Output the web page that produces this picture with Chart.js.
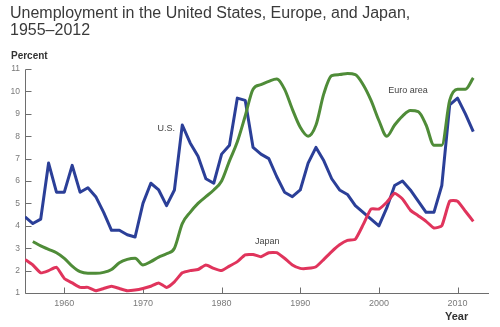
<!DOCTYPE html>
<html>
<head>
<meta charset="utf-8">
<script src="https://cdn.jsdelivr.net/npm/chart.js@4.4.0/dist/chart.umd.min.js"></script>
<style>
html,body{margin:0;padding:0;background:#fff;}
#wrap{position:relative;width:500px;height:327px;overflow:hidden;font-family:"Liberation Sans",Arial,Helvetica,sans-serif;}
#c{position:absolute;left:0;top:0;}
.t{position:absolute;white-space:nowrap;}
#title{left:10px;top:4px;font-size:16px;line-height:17px;color:#3a3a3a;}
#pct{left:11px;top:51px;font-size:10px;line-height:10px;font-weight:bold;color:#333;}
#year{left:445px;top:311px;font-size:11px;line-height:11px;font-weight:bold;color:#333;}
.lab{position:absolute;white-space:nowrap;font-size:9px;line-height:9px;color:#444;transform:translate(-50%,-50%);}
</style>
</head>
<body>
<div id="wrap">
  <canvas id="c" width="500" height="327"></canvas>
  <div class="t" id="title">Unemployment in the United States, Europe, and Japan,<br>1955–2012</div>
  <div class="t" id="pct">Percent</div>
  <div class="t" id="year">Year</div>
</div>
<script>
// ---- data ----
const years = [1955,1956,1957,1958,1959,1960,1961,1962,1963,1964,1965,1966,1967,1968,1969,
  1970,1971,1972,1973,1974,1975,1976,1977,1978,1979,1980,1981,1982,1983,1984,1985,1986,1987,
  1988,1989,1990,1991,1992,1993,1994,1995,1996,1997,1998,1999,2000,2001,2002,2003,2004,2005,
  2006,2007,2008,2009,2010,2011,2012];

const usValues = [4.4,4.1,4.3,6.8,5.5,5.5,6.7,5.5,5.7,5.3,4.6,3.8,3.8,3.6,3.5,
  5.0,5.9,5.6,4.9,5.6,8.5,7.7,7.1,6.1,5.9,7.2,7.6,9.7,9.6,7.5,7.2,7.0,6.2,
  5.5,5.3,5.6,6.8,7.5,6.9,6.1,5.6,5.4,4.9,4.6,4.3,4.0,4.8,5.8,6.0,5.6,5.1,
  4.6,4.6,5.8,9.4,9.7,9.0,8.2];

const japanValues = [2.5,2.25,1.9,2.0,2.15,1.65,1.45,1.25,1.25,1.1,1.2,1.3,1.2,1.1,1.13,
  1.2,1.3,1.45,1.25,1.5,1.9,2.0,2.05,2.25,2.1,2.0,2.2,2.4,2.7,2.72,2.62,2.8,2.8,
  2.55,2.25,2.1,2.1,2.17,2.5,2.85,3.15,3.35,3.4,4.05,4.75,4.75,5.05,5.45,5.2,4.7,4.45,
  4.2,3.9,4.0,5.1,5.1,4.65,4.2];

const euroYears = [1956,1957,1958,1959,1960,1961,1962,1963,1964,1965,1966,1967,1968,1969,
  1970,1971,1972,1973,1974,1975,1976,1977,1978,1979,1980,1981,1982,1983,1984,1985,1986,1987,
  1988,1989,1990,1991,1992,1993,1994,1995,1996,1997,1998,1999,2000,2001,2002,2003,2004,2005,
  2006,2007,2008,2009,2010,2011,2012];

const euroValues = [3.3,3.1,2.95,2.8,2.55,2.2,1.95,1.88,1.88,1.92,2.05,2.35,2.5,2.55,
  2.25,2.4,2.6,2.75,3.0,4.1,4.6,5.0,5.3,5.6,6.0,6.9,7.75,8.9,10.1,10.3,10.45,10.55,
  10.1,9.2,8.4,8.0,8.5,9.9,10.7,10.75,10.8,10.75,10.3,9.6,8.7,8.0,8.5,8.9,9.15,9.1,
  8.5,7.6,7.6,9.6,10.1,10.1,10.6];

const xTicks = [1960,1970,1980,1990,2000,2010];
const yTicks = [1,2,3,4,5,6,7,8,9,10,11];

const seriesNames = ['U.S.','Japan','Euro area'];

// ---- label placement (data coordinates) ----
const labelSpots = [
  {text:'U.S.', x:1972.95, y:8.37},
  {text:'Japan', x:1985.8, y:3.32},
  {text:'Euro area', x:2003.7, y:10.06}
];

const FONT = '"Liberation Sans", Arial, Helvetica, sans-serif';
const COLORS = {us:'#2b3f98', japan:'#e0345c', euro:'#4f8c38'};

const pts = (xs, vs) => xs.map((x,i)=>({x:x, y:vs[i]}));

const axisPlugin = {
  id:'axesDraw',
  beforeDatasetsDraw(chart){
    const {ctx, chartArea:a, scales:{x,y}} = chart;
    ctx.save();
    ctx.strokeStyle = '#6e6e6e';
    ctx.lineWidth = 1;
    const x0 = Math.round(a.left)+0.5;
    const y0 = Math.round(y.getPixelForValue(1))+0.5;
    const yTop = Math.round(y.getPixelForValue(11))+0.5;
    ctx.beginPath();
    ctx.moveTo(x0, yTop); ctx.lineTo(x0, y0); ctx.lineTo(Math.round(a.right), y0);
    yTicks.forEach(v=>{const p=Math.round(y.getPixelForValue(v))+0.5; ctx.moveTo(x0,p); ctx.lineTo(x0+6,p);});
    xTicks.forEach(v=>{const p=Math.round(x.getPixelForValue(v))+0.5; ctx.moveTo(p,y0); ctx.lineTo(p,y0-6);});
    ctx.stroke();
    ctx.restore();
  },
  afterRender(chart){
    if (chart._labelsPlaced) return;
    chart._labelsPlaced = true;
    const wrap = document.getElementById('wrap');
    const {x,y} = chart.scales;
    labelSpots.forEach(s=>{
      const d = document.createElement('div');
      d.className = 'lab';
      d.textContent = s.text;
      d.style.left = x.getPixelForValue(s.x)+'px';
      d.style.top = y.getPixelForValue(s.y)+'px';
      wrap.appendChild(d);
    });
  }
};

new Chart(document.getElementById('c'), {
  type:'line',
  data:{
    datasets:[
      {label:seriesNames[2], data:pts(euroYears, euroValues), borderColor:COLORS.euro, cubicInterpolationMode:'monotone'},
      {label:seriesNames[1], data:pts(years, japanValues), borderColor:COLORS.japan, tension:0.15},
      {label:seriesNames[0], data:pts(years, usValues), borderColor:COLORS.us, tension:0}
    ]
  },
  options:{
    responsive:false,
    animation:false,
    devicePixelRatio:1,
    layout:{padding:{top:69,right:11,bottom:0,left:0}},
    plugins:{legend:{display:false}, tooltip:{enabled:false}, title:{display:false}},
    elements:{
      point:{radius:0, hoverRadius:0},
      line:{borderWidth:3, borderJoinStyle:'round', borderCapStyle:'butt', fill:false}
    },
    scales:{
      x:{
        type:'linear', min:1955, max:2014,
        afterBuildTicks:s=>{ s.ticks = xTicks.map(v=>({value:v})); },
        afterFit:s=>{ s.height = 34; },
        grid:{display:false, drawTicks:false},
        border:{display:false},
        ticks:{font:{size:9, family:FONT}, color:'#7a7a7a', padding:5, maxRotation:0, autoSkip:false, callback:v=>String(v)}
      },
      y:{
        type:'linear', min:1, max:11,
        afterBuildTicks:s=>{ s.ticks = yTicks.map(v=>({value:v})); },
        afterFit:s=>{ s.width = 25; },
        grid:{display:false, drawTicks:false},
        border:{display:false},
        ticks:{font:{size:8.5, family:FONT}, color:'#7a7a7a', padding:5, autoSkip:false, callback:v=>String(v)}
      }
    }
  },
  plugins:[axisPlugin]
});
</script>
</body>
</html>
